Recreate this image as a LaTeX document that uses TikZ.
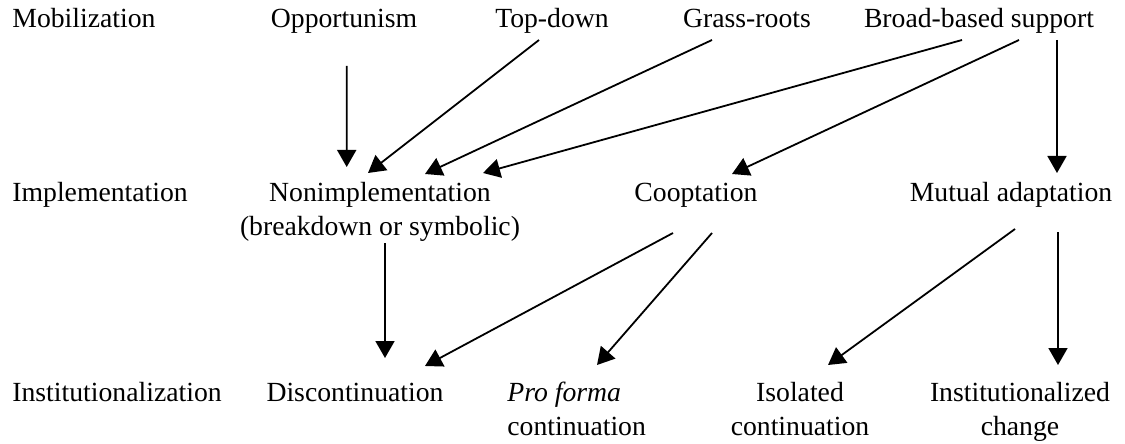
\documentclass[tikz,border=0pt]{standalone}
\usepackage{fontspec}
\setmainfont{Liberation Serif}
\usetikzlibrary{arrows.meta}

\tikzset{
  lbl/.style={inner sep=0pt,anchor=base,align=center,font=\fontsize{13.85}{17}\selectfont},
  arr/.style={-{Triangle[length=8.5pt,width=9.5pt]},line width=0.9pt}
}

\begin{document}
\begin{tikzpicture}[x=0.5pt,y=-0.5pt]
  \useasboundingbox (0,0) rectangle (1125,444);
  % stage labels
  \node[lbl,anchor=base west] (mob) at (12,28) {Mobilization};
  \node[lbl,anchor=base west] (impl) at (12,201) {Implementation};
  \node[lbl,anchor=base west] (inst) at (12,401) {Institutionalization};
  % mobilization
  \node[lbl] (opp) at (344,28) {Opportunism};
  \node[lbl] (top) at (552,28) {Top-down};
  \node[lbl] (grass) at (747,28) {Grass-roots};
  \node[lbl] (broad) at (979,28) {Broad-based support};
  % implementation (two-line nodes sit on their last line)
  \node[lbl] (non) at (380,235) {Nonimplementation\\(breakdown or symbolic)};
  \node[lbl] (coop) at (696,201) {Cooptation};
  \node[lbl] (mut) at (1011,201) {Mutual adaptation};
  % institutionalization
  \node[lbl] (disc) at (355,401) {Discontinuation};
  \node[lbl,anchor=base west,align=left] (pro) at (507,435) {\textit{Pro forma}\\continuation};
  \node[lbl] (iso) at (800,435) {Isolated\\continuation};
  \node[lbl] (chg) at (1020,435) {Institutionalized\\change};
  % arrows
  \path [arr] ([shift={(2.7,38)}]opp.base) edge ([shift={(-33.3,-68)}]non.base);
  \path [arr] ([shift={(-13,12)}]top.base) edge ([shift={(-12,-62)}]non.base);
  \path [arr] ([shift={(-35,12)}]grass.base) edge ([shift={(45,-61)}]non.base);
  \path [arr] ([shift={(-17,12)}]broad.base) edge ([shift={(103,-62)}]non.base);
  \path [arr] ([shift={(40,12)}]broad.base) edge ([shift={(36,-27)}]coop.base);
  \path [arr] ([shift={(78,12)}]broad.base) edge ([shift={(46,-28)}]mut.base);
  \path [arr] ([shift={(5,8)}]non.base) edge ([shift={(30,-43)}]disc.base);
  \path [arr] ([shift={(-23,32)}]coop.base) edge ([shift={(70,-35)}]disc.base);
  \path [arr] ([shift={(16,32)}]coop.base) edge ([shift={(90,-70)}]pro.base west);
  \path [arr] ([shift={(4,28)}]mut.base) edge ([shift={(28,-70)}]iso.base);
  \path [arr] ([shift={(47,31)}]mut.base) edge ([shift={(38,-70)}]chg.base);
\end{tikzpicture}
\end{document}
